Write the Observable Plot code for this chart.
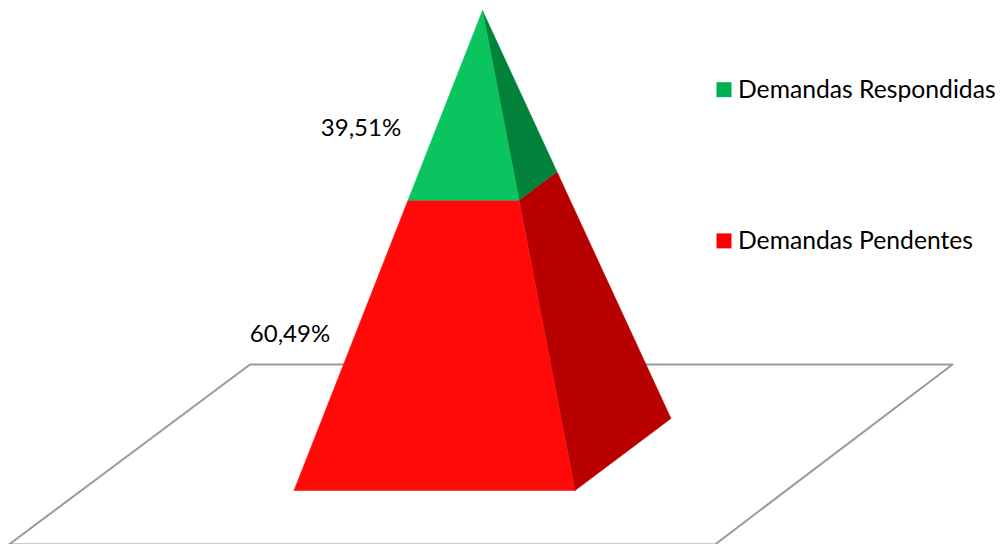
<!DOCTYPE html>
<html>
<head>
<meta charset="utf-8">
<script src="https://cdn.jsdelivr.net/npm/d3@7"></script>
<script src="https://cdn.jsdelivr.net/npm/@observablehq/plot@0.6"></script>
<style>html,body{margin:0;padding:0;background:#fff;overflow:hidden}svg{display:block}</style>
</head>
<body>
<div id="chart"></div>
<script>
// Values
const categories = ["Demandas Pendentes", "Demandas Respondidas"];
const values = [60.49, 39.51];
const valueLabels = ["60,49%", "39,51%"];
const frontColors = ["#ff0909", "#0ac45f"];
const sideColors = ["#b80000", "#00823b"];
const legendColors = ["#ff0000", "#00b050"];

// Scene anchors in chart units: x along the floor, y = cumulative percent of pyramid height
const apex = {x: 482, y: 100};
const baseFrontLeft = {x: 293.5, y: 0};
const baseFrontRight = {x: 574.5, y: 0};
const baseBackRight = {x: 670.5, y: 15};
const floorX = [8.5, 249.5, 952, 714.5];
const floorY = [-11.25, 26.25, 26.25, -11.25];
const labelX = [289.5, 360.5];
const labelY = [32.5, 75.5];
const legendSwatchX = [723.5, 723.5];
const legendTextX = [737.5, 737.5];
const legendY = [52, 83.5];

const lerp = (a, b, t) => ({x: a.x + (b.x - a.x) * t, y: a.y + (b.y - a.y) * t});
const toApex = (p, pct) => lerp(p, apex, pct / 100);

let start = 0;
const faces = [];
values.forEach((v, i) => {
  const end = start + v;
  const quad = (id, a, b, fill) => [
    toApex(a, start), toApex(b, start), toApex(b, end), toApex(a, end), toApex(a, start)
  ].forEach(p => faces.push({...p, id, fill}));
  quad("side" + i, baseFrontRight, baseBackRight, sideColors[i]);
  quad("front" + i, baseFrontLeft, baseFrontRight, frontColors[i]);
  start = end;
});

const floor = [0, 1, 2, 3, 0].map(i => ({x: floorX[i], y: floorY[i]}));
const labels = values.map((v, i) => ({x: labelX[i], y: labelY[i], text: valueLabels[i]}));
const legend = categories.map((c, i) => ({
  name: c, sx: legendSwatchX[i], tx: legendTextX[i], y: legendY[i], color: legendColors[i]
}));

const font = "Lato, 'Open Sans', sans-serif";
const chart = Plot.plot({
  width: 1000,
  height: 544,
  margin: 0,
  x: {domain: [0, 1000], range: [0, 1000], axis: null},
  y: {domain: [-11.25, 102.0833], range: [544, 0], axis: null},
  marks: [
    Plot.line(floor, {x: "x", y: "y", stroke: "#9a9a9a", strokeWidth: 2, fill: "#fff", curve: "linear"}),
    Plot.line(faces, {x: "x", y: "y", z: "id", fill: "fill", stroke: "fill", strokeWidth: 0.5, curve: "linear"}),
    Plot.text(labels, {x: "x", y: "y", text: "text", fontSize: 24, fill: "#000", fontFamily: font}),
    Plot.dot(legend, {x: "sx", y: "y", symbol: "square", r: 8.46, fill: "color", stroke: null}),
    Plot.text(legend, {x: "tx", y: "y", text: "name", textAnchor: "start", fontSize: 24.7, fill: "#000", fontFamily: font})
  ]
});
document.getElementById("chart").appendChild(chart);
</script>
</body>
</html>
